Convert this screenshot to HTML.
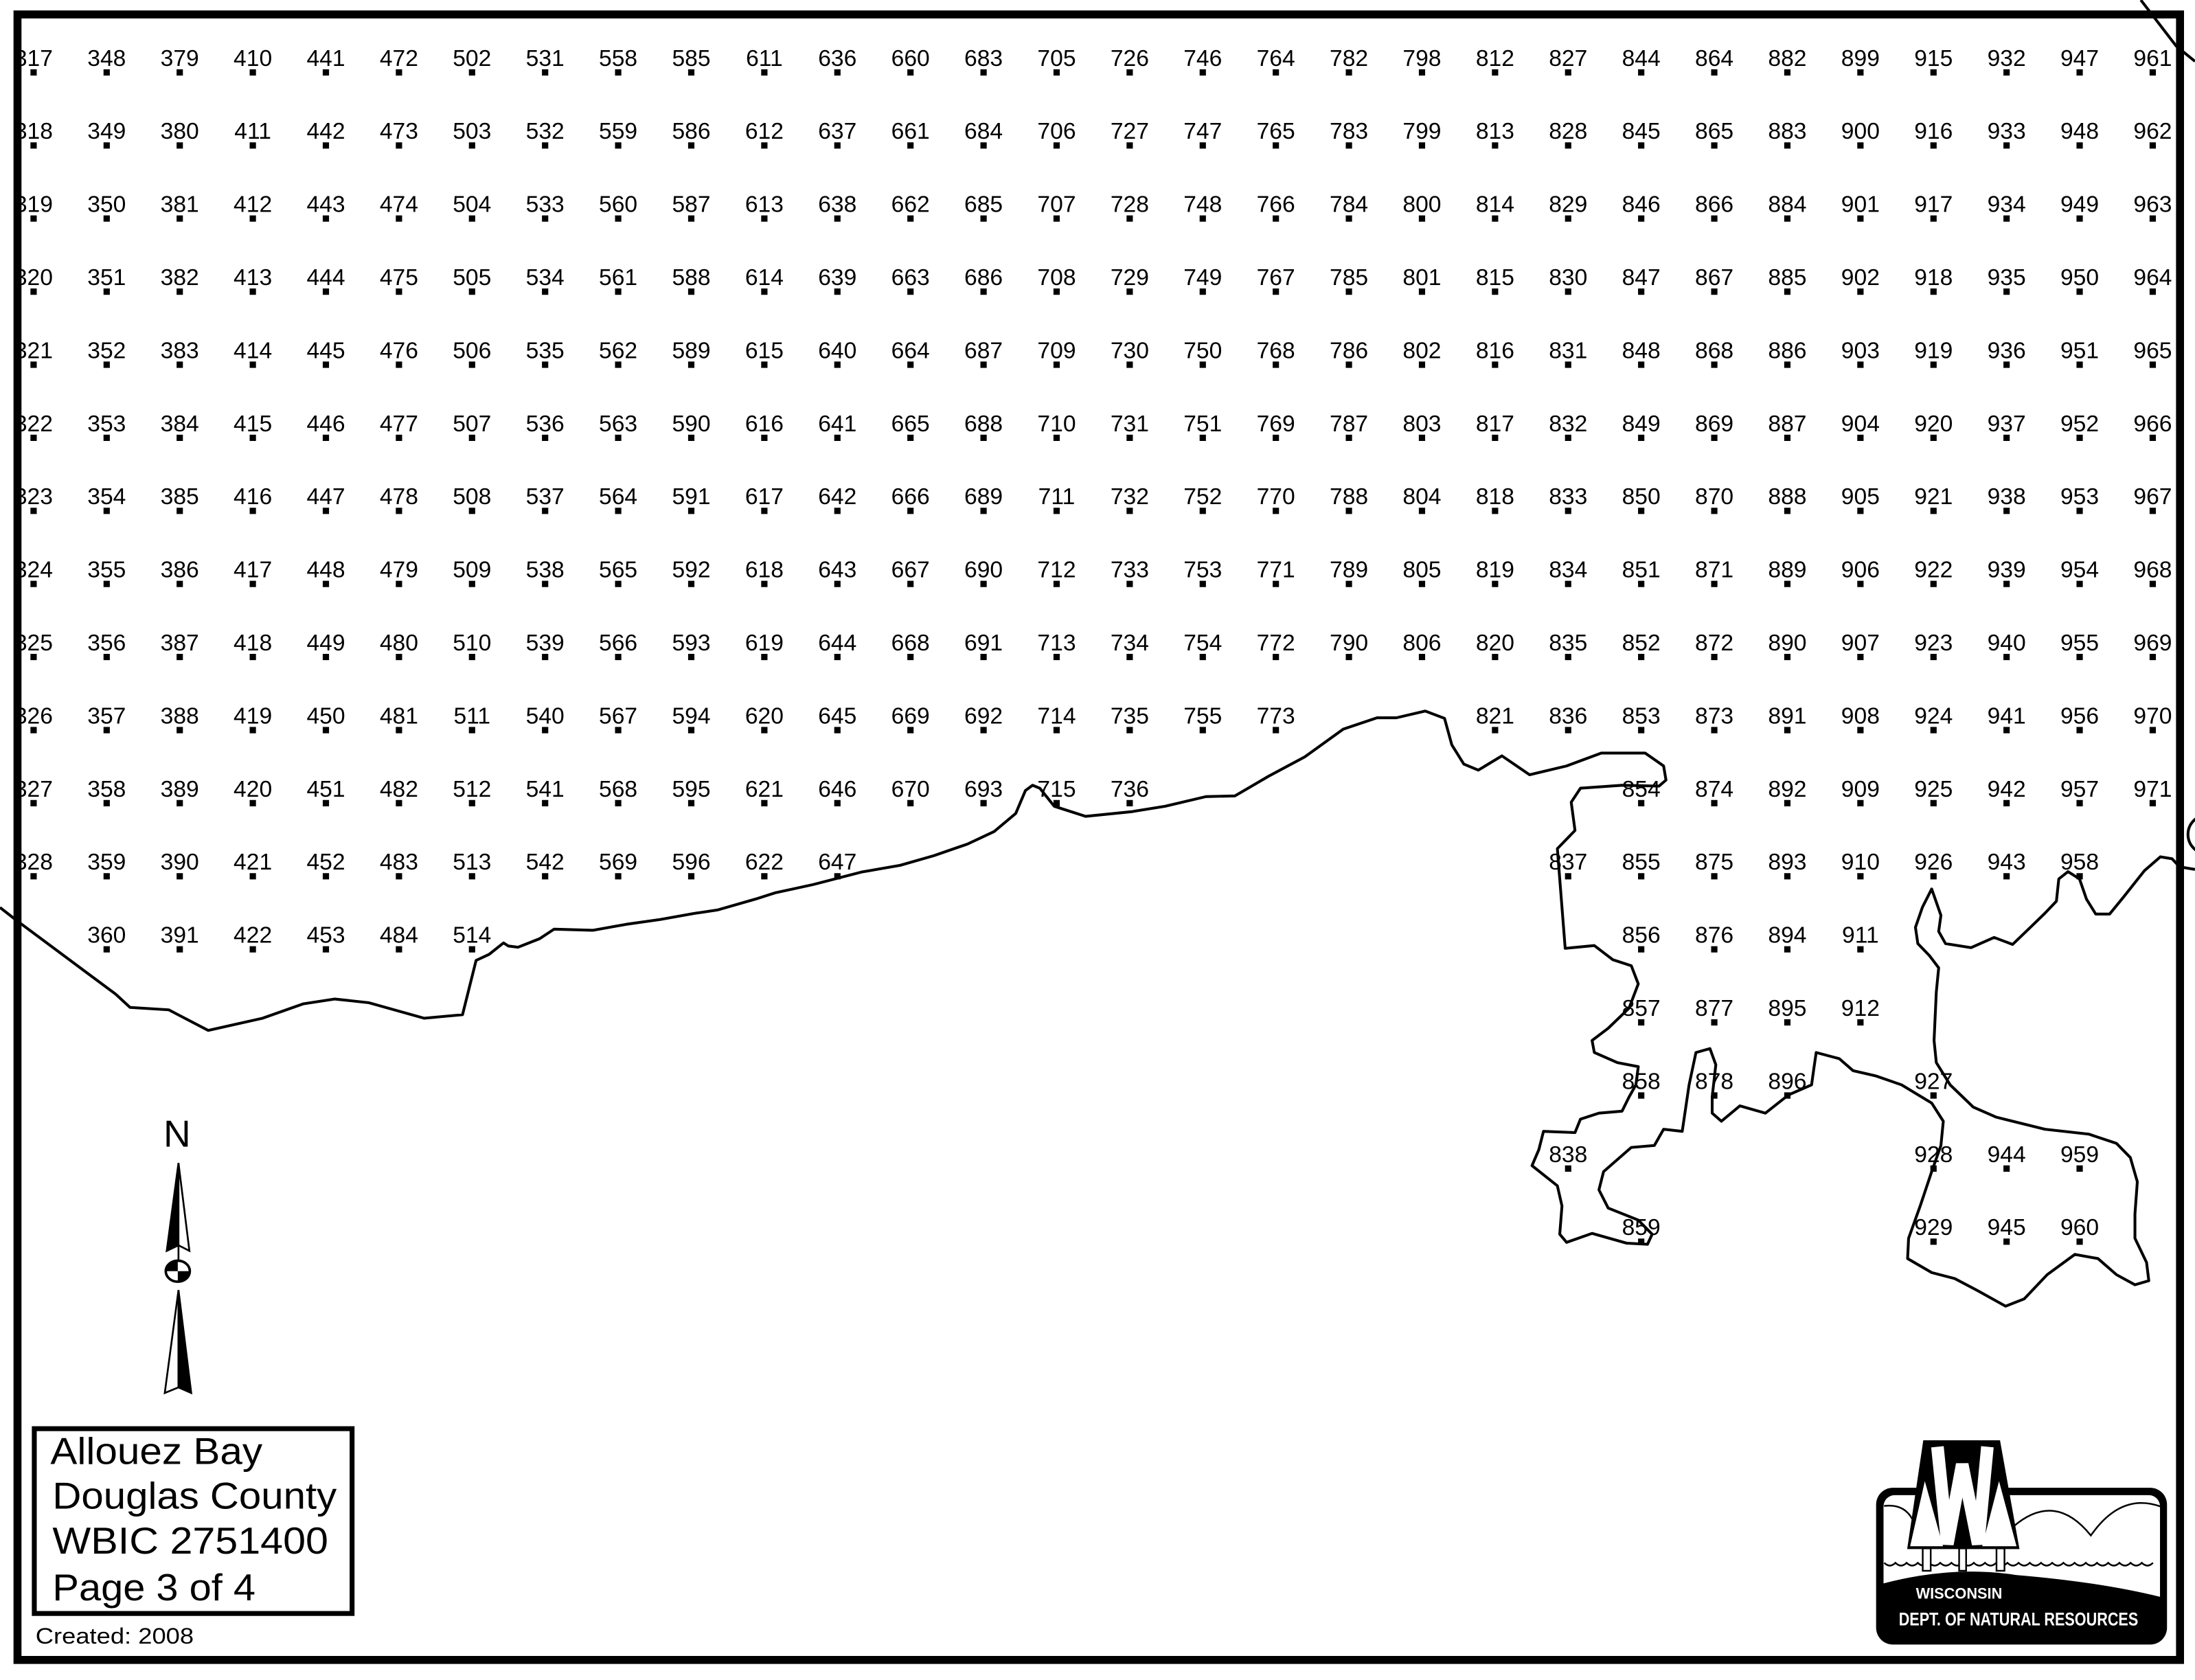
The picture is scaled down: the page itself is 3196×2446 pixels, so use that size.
<!DOCTYPE html>
<html><head><meta charset="utf-8"><style>
html,body{margin:0;padding:0;background:#fff}
svg{display:block}
.g text{font-family:"Liberation Sans",Arial,sans-serif;font-size:16.5px;fill:#000;text-anchor:middle}
.d{stroke:#000;stroke-width:4.5;stroke-dasharray:4.5 47.7;fill:none}
</style></head><body>
<svg width="3196" height="2446" viewBox="0 0 1568 1200" xmlns="http://www.w3.org/2000/svg">
<defs><clipPath id="c"><rect x="13" y="11" width="1543" height="1174"/></clipPath></defs>
<rect width="1568" height="1200" fill="#fff"/>
<g clip-path="url(#c)">
<g class="g">
<text y="47"><tspan x="24">317</tspan><tspan x="76.2">348</tspan><tspan x="128.4">379</tspan><tspan x="180.6">410</tspan><tspan x="232.8">441</tspan><tspan x="285">472</tspan><tspan x="337.2">502</tspan><tspan x="389.4">531</tspan><tspan x="441.6">558</tspan><tspan x="493.8">585</tspan><tspan x="546">611</tspan><tspan x="598.2">636</tspan><tspan x="650.4">660</tspan><tspan x="702.6">683</tspan><tspan x="754.8">705</tspan><tspan x="807">726</tspan><tspan x="859.2">746</tspan><tspan x="911.4">764</tspan><tspan x="963.6">782</tspan><tspan x="1015.8">798</tspan><tspan x="1068">812</tspan><tspan x="1120.2">827</tspan><tspan x="1172.4">844</tspan><tspan x="1224.6">864</tspan><tspan x="1276.8">882</tspan><tspan x="1329">899</tspan><tspan x="1381.2">915</tspan><tspan x="1433.4">932</tspan><tspan x="1485.6">947</tspan><tspan x="1537.8">961</tspan></text>
<text y="99.2"><tspan x="24">318</tspan><tspan x="76.2">349</tspan><tspan x="128.4">380</tspan><tspan x="180.6">411</tspan><tspan x="232.8">442</tspan><tspan x="285">473</tspan><tspan x="337.2">503</tspan><tspan x="389.4">532</tspan><tspan x="441.6">559</tspan><tspan x="493.8">586</tspan><tspan x="546">612</tspan><tspan x="598.2">637</tspan><tspan x="650.4">661</tspan><tspan x="702.6">684</tspan><tspan x="754.8">706</tspan><tspan x="807">727</tspan><tspan x="859.2">747</tspan><tspan x="911.4">765</tspan><tspan x="963.6">783</tspan><tspan x="1015.8">799</tspan><tspan x="1068">813</tspan><tspan x="1120.2">828</tspan><tspan x="1172.4">845</tspan><tspan x="1224.6">865</tspan><tspan x="1276.8">883</tspan><tspan x="1329">900</tspan><tspan x="1381.2">916</tspan><tspan x="1433.4">933</tspan><tspan x="1485.6">948</tspan><tspan x="1537.8">962</tspan></text>
<text y="151.4"><tspan x="24">319</tspan><tspan x="76.2">350</tspan><tspan x="128.4">381</tspan><tspan x="180.6">412</tspan><tspan x="232.8">443</tspan><tspan x="285">474</tspan><tspan x="337.2">504</tspan><tspan x="389.4">533</tspan><tspan x="441.6">560</tspan><tspan x="493.8">587</tspan><tspan x="546">613</tspan><tspan x="598.2">638</tspan><tspan x="650.4">662</tspan><tspan x="702.6">685</tspan><tspan x="754.8">707</tspan><tspan x="807">728</tspan><tspan x="859.2">748</tspan><tspan x="911.4">766</tspan><tspan x="963.6">784</tspan><tspan x="1015.8">800</tspan><tspan x="1068">814</tspan><tspan x="1120.2">829</tspan><tspan x="1172.4">846</tspan><tspan x="1224.6">866</tspan><tspan x="1276.8">884</tspan><tspan x="1329">901</tspan><tspan x="1381.2">917</tspan><tspan x="1433.4">934</tspan><tspan x="1485.6">949</tspan><tspan x="1537.8">963</tspan></text>
<text y="203.6"><tspan x="24">320</tspan><tspan x="76.2">351</tspan><tspan x="128.4">382</tspan><tspan x="180.6">413</tspan><tspan x="232.8">444</tspan><tspan x="285">475</tspan><tspan x="337.2">505</tspan><tspan x="389.4">534</tspan><tspan x="441.6">561</tspan><tspan x="493.8">588</tspan><tspan x="546">614</tspan><tspan x="598.2">639</tspan><tspan x="650.4">663</tspan><tspan x="702.6">686</tspan><tspan x="754.8">708</tspan><tspan x="807">729</tspan><tspan x="859.2">749</tspan><tspan x="911.4">767</tspan><tspan x="963.6">785</tspan><tspan x="1015.8">801</tspan><tspan x="1068">815</tspan><tspan x="1120.2">830</tspan><tspan x="1172.4">847</tspan><tspan x="1224.6">867</tspan><tspan x="1276.8">885</tspan><tspan x="1329">902</tspan><tspan x="1381.2">918</tspan><tspan x="1433.4">935</tspan><tspan x="1485.6">950</tspan><tspan x="1537.8">964</tspan></text>
<text y="255.8"><tspan x="24">321</tspan><tspan x="76.2">352</tspan><tspan x="128.4">383</tspan><tspan x="180.6">414</tspan><tspan x="232.8">445</tspan><tspan x="285">476</tspan><tspan x="337.2">506</tspan><tspan x="389.4">535</tspan><tspan x="441.6">562</tspan><tspan x="493.8">589</tspan><tspan x="546">615</tspan><tspan x="598.2">640</tspan><tspan x="650.4">664</tspan><tspan x="702.6">687</tspan><tspan x="754.8">709</tspan><tspan x="807">730</tspan><tspan x="859.2">750</tspan><tspan x="911.4">768</tspan><tspan x="963.6">786</tspan><tspan x="1015.8">802</tspan><tspan x="1068">816</tspan><tspan x="1120.2">831</tspan><tspan x="1172.4">848</tspan><tspan x="1224.6">868</tspan><tspan x="1276.8">886</tspan><tspan x="1329">903</tspan><tspan x="1381.2">919</tspan><tspan x="1433.4">936</tspan><tspan x="1485.6">951</tspan><tspan x="1537.8">965</tspan></text>
<text y="308"><tspan x="24">322</tspan><tspan x="76.2">353</tspan><tspan x="128.4">384</tspan><tspan x="180.6">415</tspan><tspan x="232.8">446</tspan><tspan x="285">477</tspan><tspan x="337.2">507</tspan><tspan x="389.4">536</tspan><tspan x="441.6">563</tspan><tspan x="493.8">590</tspan><tspan x="546">616</tspan><tspan x="598.2">641</tspan><tspan x="650.4">665</tspan><tspan x="702.6">688</tspan><tspan x="754.8">710</tspan><tspan x="807">731</tspan><tspan x="859.2">751</tspan><tspan x="911.4">769</tspan><tspan x="963.6">787</tspan><tspan x="1015.8">803</tspan><tspan x="1068">817</tspan><tspan x="1120.2">832</tspan><tspan x="1172.4">849</tspan><tspan x="1224.6">869</tspan><tspan x="1276.8">887</tspan><tspan x="1329">904</tspan><tspan x="1381.2">920</tspan><tspan x="1433.4">937</tspan><tspan x="1485.6">952</tspan><tspan x="1537.8">966</tspan></text>
<text y="360.2"><tspan x="24">323</tspan><tspan x="76.2">354</tspan><tspan x="128.4">385</tspan><tspan x="180.6">416</tspan><tspan x="232.8">447</tspan><tspan x="285">478</tspan><tspan x="337.2">508</tspan><tspan x="389.4">537</tspan><tspan x="441.6">564</tspan><tspan x="493.8">591</tspan><tspan x="546">617</tspan><tspan x="598.2">642</tspan><tspan x="650.4">666</tspan><tspan x="702.6">689</tspan><tspan x="754.8">711</tspan><tspan x="807">732</tspan><tspan x="859.2">752</tspan><tspan x="911.4">770</tspan><tspan x="963.6">788</tspan><tspan x="1015.8">804</tspan><tspan x="1068">818</tspan><tspan x="1120.2">833</tspan><tspan x="1172.4">850</tspan><tspan x="1224.6">870</tspan><tspan x="1276.8">888</tspan><tspan x="1329">905</tspan><tspan x="1381.2">921</tspan><tspan x="1433.4">938</tspan><tspan x="1485.6">953</tspan><tspan x="1537.8">967</tspan></text>
<text y="412.4"><tspan x="24">324</tspan><tspan x="76.2">355</tspan><tspan x="128.4">386</tspan><tspan x="180.6">417</tspan><tspan x="232.8">448</tspan><tspan x="285">479</tspan><tspan x="337.2">509</tspan><tspan x="389.4">538</tspan><tspan x="441.6">565</tspan><tspan x="493.8">592</tspan><tspan x="546">618</tspan><tspan x="598.2">643</tspan><tspan x="650.4">667</tspan><tspan x="702.6">690</tspan><tspan x="754.8">712</tspan><tspan x="807">733</tspan><tspan x="859.2">753</tspan><tspan x="911.4">771</tspan><tspan x="963.6">789</tspan><tspan x="1015.8">805</tspan><tspan x="1068">819</tspan><tspan x="1120.2">834</tspan><tspan x="1172.4">851</tspan><tspan x="1224.6">871</tspan><tspan x="1276.8">889</tspan><tspan x="1329">906</tspan><tspan x="1381.2">922</tspan><tspan x="1433.4">939</tspan><tspan x="1485.6">954</tspan><tspan x="1537.8">968</tspan></text>
<text y="464.6"><tspan x="24">325</tspan><tspan x="76.2">356</tspan><tspan x="128.4">387</tspan><tspan x="180.6">418</tspan><tspan x="232.8">449</tspan><tspan x="285">480</tspan><tspan x="337.2">510</tspan><tspan x="389.4">539</tspan><tspan x="441.6">566</tspan><tspan x="493.8">593</tspan><tspan x="546">619</tspan><tspan x="598.2">644</tspan><tspan x="650.4">668</tspan><tspan x="702.6">691</tspan><tspan x="754.8">713</tspan><tspan x="807">734</tspan><tspan x="859.2">754</tspan><tspan x="911.4">772</tspan><tspan x="963.6">790</tspan><tspan x="1015.8">806</tspan><tspan x="1068">820</tspan><tspan x="1120.2">835</tspan><tspan x="1172.4">852</tspan><tspan x="1224.6">872</tspan><tspan x="1276.8">890</tspan><tspan x="1329">907</tspan><tspan x="1381.2">923</tspan><tspan x="1433.4">940</tspan><tspan x="1485.6">955</tspan><tspan x="1537.8">969</tspan></text>
<text y="516.8"><tspan x="24">326</tspan><tspan x="76.2">357</tspan><tspan x="128.4">388</tspan><tspan x="180.6">419</tspan><tspan x="232.8">450</tspan><tspan x="285">481</tspan><tspan x="337.2">511</tspan><tspan x="389.4">540</tspan><tspan x="441.6">567</tspan><tspan x="493.8">594</tspan><tspan x="546">620</tspan><tspan x="598.2">645</tspan><tspan x="650.4">669</tspan><tspan x="702.6">692</tspan><tspan x="754.8">714</tspan><tspan x="807">735</tspan><tspan x="859.2">755</tspan><tspan x="911.4">773</tspan><tspan x="1068">821</tspan><tspan x="1120.2">836</tspan><tspan x="1172.4">853</tspan><tspan x="1224.6">873</tspan><tspan x="1276.8">891</tspan><tspan x="1329">908</tspan><tspan x="1381.2">924</tspan><tspan x="1433.4">941</tspan><tspan x="1485.6">956</tspan><tspan x="1537.8">970</tspan></text>
<text y="569"><tspan x="24">327</tspan><tspan x="76.2">358</tspan><tspan x="128.4">389</tspan><tspan x="180.6">420</tspan><tspan x="232.8">451</tspan><tspan x="285">482</tspan><tspan x="337.2">512</tspan><tspan x="389.4">541</tspan><tspan x="441.6">568</tspan><tspan x="493.8">595</tspan><tspan x="546">621</tspan><tspan x="598.2">646</tspan><tspan x="650.4">670</tspan><tspan x="702.6">693</tspan><tspan x="754.8">715</tspan><tspan x="807">736</tspan><tspan x="1172.4">854</tspan><tspan x="1224.6">874</tspan><tspan x="1276.8">892</tspan><tspan x="1329">909</tspan><tspan x="1381.2">925</tspan><tspan x="1433.4">942</tspan><tspan x="1485.6">957</tspan><tspan x="1537.8">971</tspan></text>
<text y="621.2"><tspan x="24">328</tspan><tspan x="76.2">359</tspan><tspan x="128.4">390</tspan><tspan x="180.6">421</tspan><tspan x="232.8">452</tspan><tspan x="285">483</tspan><tspan x="337.2">513</tspan><tspan x="389.4">542</tspan><tspan x="441.6">569</tspan><tspan x="493.8">596</tspan><tspan x="546">622</tspan><tspan x="598.2">647</tspan><tspan x="1120.2">837</tspan><tspan x="1172.4">855</tspan><tspan x="1224.6">875</tspan><tspan x="1276.8">893</tspan><tspan x="1329">910</tspan><tspan x="1381.2">926</tspan><tspan x="1433.4">943</tspan><tspan x="1485.6">958</tspan></text>
<text y="673.4"><tspan x="76.2">360</tspan><tspan x="128.4">391</tspan><tspan x="180.6">422</tspan><tspan x="232.8">453</tspan><tspan x="285">484</tspan><tspan x="337.2">514</tspan><tspan x="1172.4">856</tspan><tspan x="1224.6">876</tspan><tspan x="1276.8">894</tspan><tspan x="1329">911</tspan></text>
<text y="725.6"><tspan x="1172.4">857</tspan><tspan x="1224.6">877</tspan><tspan x="1276.8">895</tspan><tspan x="1329">912</tspan></text>
<text y="777.8"><tspan x="1172.4">858</tspan><tspan x="1224.6">878</tspan><tspan x="1276.8">896</tspan><tspan x="1381.2">927</tspan></text>
<text y="830"><tspan x="1120.2">838</tspan><tspan x="1381.2">928</tspan><tspan x="1433.4">944</tspan><tspan x="1485.6">959</tspan></text>
<text y="882.2"><tspan x="1172.4">859</tspan><tspan x="1381.2">929</tspan><tspan x="1433.4">945</tspan><tspan x="1485.6">960</tspan></text>
</g>
<g class="d">
<path d="M21.75 51.7H1540.05M21.75 103.9H1540.05M21.75 156.1H1540.05M21.75 208.3H1540.05M21.75 260.5H1540.05M21.75 312.7H1540.05M21.75 364.9H1540.05M21.75 417.1H1540.05M21.75 469.3H1540.05"/>
<path d="M21.75 521.5H913.65M1065.75 521.5H1540.05"/>
<path d="M21.75 573.7H809.25M1170.15 573.7H1540.05"/>
<path d="M21.75 625.9H600.45M1117.95 625.9H1487.85"/>
<path d="M73.95 678.1H339.45M1170.15 678.1H1331.25"/>
<path d="M1170.15 730.3H1331.25"/>
<path d="M1170.15 782.5H1279.05M1378.95 782.5H1383.45"/>
<path d="M1117.95 834.7H1122.45M1378.95 834.7H1487.85"/>
<path d="M1170.15 886.9H1174.65M1378.95 886.9H1487.85"/>
</g>
</g>
<g fill="none" stroke="#000" stroke-width="2" stroke-linejoin="round">
<path d="M0 648.2L12 657.6L82.6 710.1L92.9 719.6L120.5 721.3L148.7 736L187.6 727.3L216.8 717L239.2 713.6L263.3 716.2L302.9 727.3L330.4 724.8L340.1 686L349.4 681.7L359.7 673.5L363.1 675.7L370 676.6L385.5 670.5L395.8 663.7L423.4 664.5L447.5 660.2L471.6 656.8L495.6 652.5L512.9 649.9L539.7 642.2L553.5 637.8L581 631.8L615.4 622.9L643 618.1L667.1 611.2L691.1 602.9L710.1 594L725.6 581L732.5 564.7L737.6 560.9L742.8 563L753.1 575.9L775.5 583.1L808.2 579.8L832.3 575.9L861.5 569L882.2 568.5L906.3 554.4L932.1 540.6L959.6 520.8L983.7 512.7L997.5 512.7L1018.1 507.9L1031.9 513.1L1037.1 532L1045.7 545.8L1056 550.1L1072.9 539.9L1092.7 553.4L1119.1 547.1L1143.9 537.9L1175.2 537.9L1188.4 547.1L1190.1 557.2L1185.1 561.5L1158.7 560.9L1129 563L1122.4 573L1125.1 593.2L1112.5 606.2L1118.1 677.4L1138.9 675.4L1152.1 685.5L1165.3 689.8L1170.3 702.8L1163.7 720.1L1148.8 734.5L1137.3 743.2L1138.9 751.8L1155.4 759L1170.3 761.9L1168.6 774.9L1163.7 783.6L1158.7 793.7L1142.2 795.1L1129 799.4L1125.1 809L1102.6 808.1L1099.3 821.1L1094.4 832.6L1112.5 847L1115.8 861.4L1114.2 881.6L1119.1 887.4L1137.3 881L1162 888L1176.9 888.8L1180.2 881.6L1170.3 871.5L1148.8 862.9L1142.2 849.9L1145.5 836.9L1165.3 819.6L1181.8 818.2L1188.4 806.6L1201.7 808.1L1206.6 774.9L1211.5 751.8L1221.5 749L1225.7 760.5L1223.1 783.6L1223.1 795.1L1229.7 800.9L1242.9 789.9L1261.1 795.1L1277.6 782.1L1294.1 774.9L1295.7 763.4L1297.4 751.8L1313.9 756.2L1323.8 764.8L1340.3 768.6L1358.4 774.9L1379.9 787.9L1388.2 800.9L1386.5 818.2L1379.9 836.9L1371.7 861.4L1363.4 884.5L1362.7 899L1379.9 909L1396.4 913.3L1412.9 922L1432.7 933L1446 927.8L1462.4 910.5L1482.2 896L1498.7 899L1511.9 910.5L1525.1 917.7L1535 914.8L1533.4 901.8L1525.1 884.5L1525.1 867.2L1526.8 844.1L1521.8 826.8L1511.9 816.7L1492.1 810.1L1460.8 806.6L1426.1 798L1409.6 790.8L1393.1 774.9L1383.2 759L1381.6 743.2L1383.2 708.6L1384.9 691.3L1378.3 682.6L1370 674L1368.3 662.4L1373.3 648L1379.9 635L1386.5 653.8L1384.9 665.3L1389.8 674L1408 676.9L1424.5 669.6L1437.7 674.6L1450.9 661.9L1460.8 652.3L1469 643.7L1470.7 627.8L1477.3 622.6L1485.5 627.8L1490.5 642.3L1497.1 652.9L1507 652.9L1516.9 640.8L1531.8 622L1543.3 612L1551.6 613.4L1557 619.2L1568 621"/>
<path d="M1529.3 0L1554.6 32.9L1568 43.8"/>
<circle cx="1577" cy="596" r="14"/>
</g>
<rect x="12.5" y="10.3" width="1544.8" height="1175.4" fill="none" stroke="#000" stroke-width="5.7"/>
<!-- North arrow -->
<text x="126.5" y="819" font-family="Liberation Sans,Arial,sans-serif" font-size="27" text-anchor="middle">N</text>
<g stroke="#000" stroke-width="1.3" stroke-linejoin="miter">
<polygon points="127.5,830.7 119.1,893.5 127.5,889.5" fill="#000"/>
<polygon points="127.5,830.7 135.3,893.5 127.5,889.5" fill="#fff"/>
<line x1="127.5" y1="889" x2="127.5" y2="903"/>
<polygon points="127.5,921.5 117.7,995 127.5,991" fill="#fff"/>
<polygon points="127.5,921.5 136.6,995 127.5,991" fill="#000"/>
<ellipse cx="127" cy="908" rx="8.6" ry="7.5" fill="#fff" stroke-width="1.8"/>
</g>
<path d="M127 908V900.5A8.6 7.5 0 0 0 118.4 908Z" fill="#000"/>
<path d="M127 908V915.5A8.6 7.5 0 0 0 135.6 908Z" fill="#000"/>
<!-- Legend -->
<rect x="24.5" y="1020.5" width="227" height="132" fill="none" stroke="#000" stroke-width="3.5"/>
<g font-family="Liberation Sans,Arial,sans-serif" font-size="27" lengthAdjust="spacingAndGlyphs">
<text x="36" y="1045.7" textLength="151.5" lengthAdjust="spacingAndGlyphs">Allouez Bay</text>
<text x="37.5" y="1077.7" textLength="203" lengthAdjust="spacingAndGlyphs">Douglas County</text>
<text x="37.5" y="1109.7" textLength="197" lengthAdjust="spacingAndGlyphs">WBIC 2751400</text>
<text x="37.5" y="1143.1" textLength="145" lengthAdjust="spacingAndGlyphs">Page 3 of 4</text>
</g>
<text x="25.4" y="1174" font-family="Liberation Sans,Arial,sans-serif" font-size="16" textLength="113" lengthAdjust="spacingAndGlyphs">Created: 2008</text>
<!-- Logo -->
<rect x="1340.2" y="1062.7" width="207.8" height="112" rx="12" fill="#000"/>
<path d="M1345.5 1076a8 8 0 0 1 8-8H1535a8 8 0 0 1 8 8V1140.6Q1500 1130 1440 1125Q1395 1118 1345.5 1131Z" fill="#fff"/>
<g fill="none" stroke="#000" stroke-width="1.2">
<path d="M1345.9 1075.7Q1360 1074 1366 1085"/>
<path d="M1438.4 1090.3Q1468 1065 1493.6 1096.8Q1515 1066 1543.1 1076"/>
<path d="M1346 1116.3q4 4 8 0q4 4 8 0q4 4 8 0q4 4 8 0q4 4 8 0q4 4 8 0q4 4 8 0q4 4 8 0q4 4 8 0q4 4 8 0q4 4 8 0q4 4 8 0q4 4 8 0q4 4 8 0q4 4 8 0q4 4 8 0q4 4 8 0q4 4 8 0q4 4 8 0q4 4 8 0q4 4 8 0q4 4 8 0q4 4 8 0q4 4 8 0"/>
</g>
<polygon points="1373.9,1028.8 1428.7,1028.8 1442.6,1106.5 1362.4,1106.5" fill="#000"/>
<polygon points="1375,1058 1364.5,1104.5 1388,1104.5" fill="#fff"/>
<polygon points="1428,1058 1440.5,1104.5 1416,1104.5" fill="#fff"/>
<polyline points="1384,1033.4 1391.1,1103 1401.7,1046 1413.1,1103 1419.7,1033.4" fill="none" stroke="#fff" stroke-width="9" stroke-linejoin="miter" stroke-miterlimit="2"/>
<g fill="#fff" stroke="#000" stroke-width="1.2">
<rect x="1373.5" y="1106" width="5.7" height="16"/>
<rect x="1399.5" y="1106" width="5" height="16"/>
<rect x="1426.2" y="1106" width="5.7" height="16"/>
</g>
<g font-family="Liberation Sans,Arial,sans-serif" font-weight="bold" fill="#fff">
<text x="1368.6" y="1142" font-size="11" textLength="61.7" lengthAdjust="spacingAndGlyphs">WISCONSIN</text>
<text x="1356.4" y="1161" font-size="13" textLength="171" lengthAdjust="spacingAndGlyphs">DEPT. OF NATURAL RESOURCES</text>
</g>
</svg>
</body></html>
